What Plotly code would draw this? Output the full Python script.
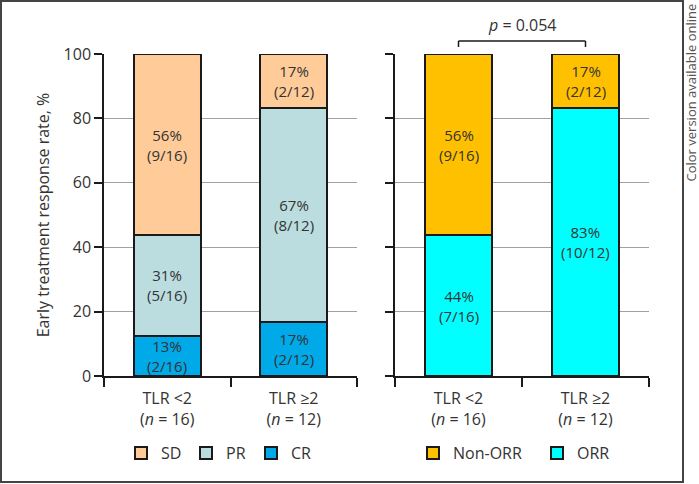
import plotly.graph_objects as go

categories = ["TLR <2<br>(<i>n</i> = 16)", "TLR ≥2<br>(<i>n</i> = 12)"]

# Left panel: response categories (%)
cr = [12.5, 16.67]
pr = [31.25, 66.67]
sd = [56.25, 16.67]
cr_lbl = ["13%<br>(2/16)", "17%<br>(2/12)"]
pr_lbl = ["31%<br>(5/16)", "67%<br>(8/12)"]
sd_lbl = ["56%<br>(9/16)", "17%<br>(2/12)"]

# Right panel: ORR vs Non-ORR (%)
orr = [43.75, 83.33]
non_orr = [56.25, 16.67]
orr_lbl = ["44%<br>(7/16)", "83%<br>(10/12)"]
non_orr_lbl = ["56%<br>(9/16)", "17%<br>(2/12)"]

p_text = "<i>p</i> = 0.054"
y_ticks = [0, 20, 40, 60, 80, 100]

FONT = "Open Sans"
TXT = "#333333"
W, H = 699, 484
ML, MR, MT, MB = 104, 50, 54, 108
PW = W - ML - MR
PH = H - MT - MB

def px_x(px):
    return (px - ML) / PW

def px_y(py):
    return (H - MB - py) / PH

fig = go.Figure()
line = dict(color="#1a1a1a", width=2)
bw = 0.53

fig.add_trace(go.Bar(x=categories, y=cr, name="CR", marker=dict(color="#00A9E8", line=line),
                     width=bw, xaxis="x", yaxis="y", legend="legend"))
fig.add_trace(go.Bar(x=categories, y=pr, name="PR", marker=dict(color="#BCDDE0", line=line),
                     width=bw, xaxis="x", yaxis="y", legend="legend"))
fig.add_trace(go.Bar(x=categories, y=sd, name="SD", marker=dict(color="#FFCC99", line=line),
                     width=bw, xaxis="x", yaxis="y", legend="legend"))

fig.add_trace(go.Bar(x=categories, y=orr, name="ORR", marker=dict(color="#00FFFF", line=line),
                     width=bw, xaxis="x2", yaxis="y2", legend="legend2"))
fig.add_trace(go.Bar(x=categories, y=non_orr, name="Non-ORR", marker=dict(color="#FFC000", line=line),
                     width=bw, xaxis="x2", yaxis="y2", legend="legend2"))

# segment labels
def add_labels(vals_list, lbls_list, xr, yr):
    base = [0.0] * len(categories)
    for vals, lbls in zip(vals_list, lbls_list):
        for i, c in enumerate(categories):
            fig.add_annotation(x=c, y=base[i] + vals[i] / 2, xref=xr, yref=yr, text=lbls[i],
                               showarrow=False, borderpad=0,
                               font=dict(family=FONT, size=15, color=TXT))
            base[i] += vals[i]

add_labels([cr, pr, sd], [cr_lbl, pr_lbl, sd_lbl], "x", "y")
add_labels([orr, non_orr], [orr_lbl, non_orr_lbl], "x2", "y2")

axis_font = dict(family=FONT, size=16, color=TXT)
common_y = dict(range=[0, 100], tickvals=y_ticks, showline=True, linecolor="#1a1a1a", linewidth=1.5,
                ticks="outside", ticklen=8, tickcolor="#1a1a1a", tickwidth=1.5,
                showgrid=True, gridcolor="#a0a0a0", gridwidth=1.2, zeroline=False,
                tickfont=axis_font)
common_x = dict(showline=True, linecolor="#1a1a1a", linewidth=1.5, ticks="outside", ticklen=9,
                tickcolor="#1a1a1a", tickwidth=1.5, tickson="boundaries", range=[-0.5, 1.5],
                tickfont=axis_font, showgrid=False, ticklabelstandoff=7)

fig.update_layout(
    width=W, height=H,
    margin=dict(l=ML, r=MR, t=MT, b=MB, autoexpand=False),
    paper_bgcolor="white", plot_bgcolor="white",
    barmode="stack",
    font=dict(family=FONT, color=TXT),
    xaxis=dict(domain=[0, px_x(357)], anchor="y", **common_x),
    xaxis2=dict(domain=[px_x(395), 1], anchor="y2", **common_x),
    yaxis=dict(domain=[0, 1], anchor="x",
               title=dict(text="Early treatment response rate, %", font=axis_font, standoff=10),
               **common_y),
    yaxis2=dict(domain=[0, 1], anchor="x2", showticklabels=False, **common_y),
    legend=dict(orientation="h", x=px_x(121), y=px_y(436), xanchor="left", yanchor="top",
                font=dict(family=FONT, size=16, color=TXT), entrywidth=20, traceorder="reversed",
                bgcolor="rgba(0,0,0,0)"),
    legend2=dict(orientation="h", x=px_x(413), y=px_y(436), xanchor="left", yanchor="top",
                 font=dict(family=FONT, size=16, color=TXT), entrywidth=79, traceorder="reversed",
                 bgcolor="rgba(0,0,0,0)"),
    showlegend=True,
)

# p-value bracket
bl = dict(color="#1a1a1a", width=1.5)
fig.add_shape(type="line", xref="x2", yref="paper", x0=0, x1=1, y0=px_y(41), y1=px_y(41), line=bl)
fig.add_shape(type="line", xref="x2", yref="paper", x0=0, x1=0, y0=px_y(41), y1=px_y(47), line=bl)
fig.add_shape(type="line", xref="x2", yref="paper", x0=1, x1=1, y0=px_y(41), y1=px_y(47), line=bl)
fig.add_annotation(x=0.5, xref="x2", y=px_y(25), yref="paper", text=p_text, showarrow=False,
                   xanchor="center", yanchor="middle",
                   font=dict(family=FONT, size=16, color=TXT))

# frame
fig.add_shape(type="rect", xref="paper", yref="paper", x0=px_x(1), x1=px_x(683), y0=px_y(482), y1=px_y(1),
              line=dict(color="#444444", width=2), layer="below")

fig.add_annotation(x=px_x(690.5), y=px_y(93), xref="paper", yref="paper",
                   xanchor="center", yanchor="middle", borderpad=0,
                   text="Color version available online", textangle=-90, showarrow=False,
                   font=dict(family=FONT, size=13, color="#555555"))

fig.write_html("out.html", config={"displayModeBar": False},
               post_script="document.body.style.margin='0';document.body.style.padding='0';"
                           "document.documentElement.style.overflow='hidden';")
